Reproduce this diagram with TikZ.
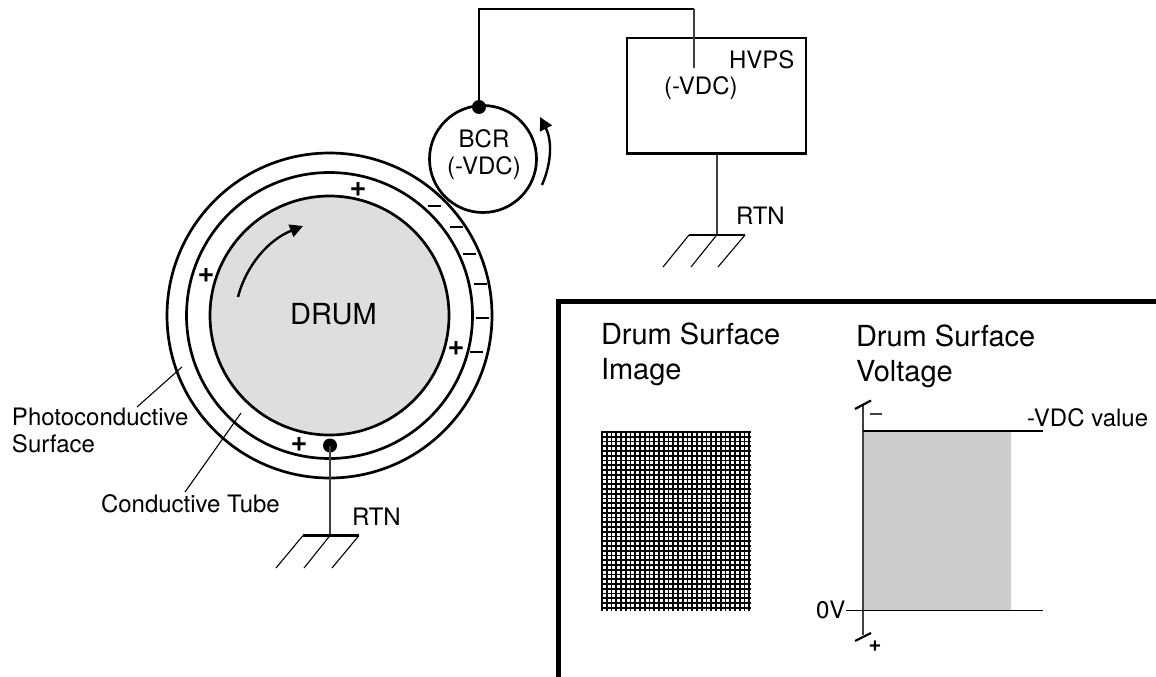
\documentclass[tikz,border=0pt]{standalone}
\usepackage{fontspec}
\setmainfont{TeX Gyre Heros}
\usetikzlibrary{arrows.meta}
\newcommand{\fs}[1]{\fontsize{#1}{#1}\selectfont}
\tikzset{
  thickline/.style={draw=black,line width=2.7pt},
  medline/.style={draw=black,line width=2.2pt},
  thinline/.style={draw=black!75,line width=1.4pt},
  hairline/.style={draw=black,line width=1.1pt},
  lbl/.style={inner sep=0pt,outer sep=0pt,anchor=base west,font=\fs{24}},
  biglbl/.style={inner sep=0pt,outer sep=0pt,anchor=base west,font=\fs{29}},
  ctr/.style={inner sep=0pt,outer sep=0pt,align=center,font=\fs{24}},
  sign/.style={inner sep=0pt,outer sep=0pt,font=\fs{29}\bfseries},
  minusmark/.style={draw=black,line width=2.6pt},
  junction/.style={circle,fill=black,inner sep=0pt,minimum size=14pt},
  rotarrow/.style={draw=black,line width=2.4pt,-{Triangle[length=13pt,width=13pt]}},
}
\begin{document}
\begin{tikzpicture}[x=1pt,y=-1pt]
\useasboundingbox (0,0) rectangle (1156,677);
% drum
\node[circle,thickline,minimum size=325pt,inner sep=0pt] (outer) at (329.5,315.5) {};
\node[circle,thickline,minimum size=286pt,inner sep=0pt] (middle) at (329.5,315.5) {};
\node[circle,thickline,fill=black!13,minimum size=239pt,inner sep=0pt] (drum) at (329.5,315.5) {};
\node[inner sep=0pt,font=\fs{29}] (drumlbl) at (333.5,314) {DRUM};
% drum arrow
\coordinate (da1) at (238,297);
\coordinate (da2) at (303,226);
\draw[rotarrow] (da1) .. controls (246,266) and (268,240) .. (da2);
% plus signs
\node[sign] (p1) at (358,190) {+};
\node[sign] (p2) at (206,276) {+};
\node[sign] (p3) at (456,349) {+};
\node[sign] (p4) at (299,445) {+};
% minus signs
\foreach \n/\x/\y in {a/434/206,b/456/227,c/469/254,d/480/284,e/482/318,f/476/352}{
  \coordinate (m\n l) at (\x-6.5,\y);
  \coordinate (m\n r) at (\x+6.5,\y);
  \draw[minusmark] (m\n l) -- (m\n r);
}
% BCR
\node[circle,thickline,fill=white,minimum size=107pt,inner sep=0pt] (bcr) at (483,159) {};
\node[ctr] (bcrlbl) at (484,155) {BCR\\[3pt](-VDC)};
\node[junction] (bcrdot) at (479,107) {};
\coordinate (bcrarrA) at (542,185);
\coordinate (bcrarrB) at (540,117);
\draw[rotarrow] (bcrarrA) .. controls (552,162) and (552,140) .. (bcrarrB);
% HVPS
\node[draw=black,line width=2.3pt,minimum width=179pt,minimum height=115.5pt,inner sep=0pt] (hvps) at (716.5,95.8) {};
\node[lbl] (hvpslbl) at (729,69) {HVPS};
\node[lbl] (vdclbl) at (664,94) {(-VDC)};
\coordinate (wireA) at (479,9);
\coordinate (wireB) at (694,9);
\coordinate (wireC) at (694,68);
\draw[medline,line join=miter] (bcrdot.center) -- (wireA) -- (wireB);
\draw[thinline] (wireB) -- (wireC);
% HVPS ground
\coordinate (g1c) at (716.7,235);
\coordinate (g1l) at (689,235);
\coordinate (g1r) at (745,235);
\coordinate (g1la) at (663,267);
\coordinate (g1ca) at (691,267);
\coordinate (g1ra) at (718,267);
\draw[thinline,line width=1.7pt] (hvps.south -| g1c) -- (g1c);
\draw[medline] (g1l) -- (g1r);
\draw[hairline] (g1l) -- (g1la) (g1c) -- (g1ca) (g1r) -- (g1ra);
\node[lbl] (rtn1) at (736,224) {RTN};
% drum ground
\node[junction] (drumdot) at (330,445.5) {};
\coordinate (g2c) at (330,535.5);
\coordinate (g2l) at (303,535.5);
\coordinate (g2r) at (359,535.5);
\coordinate (g2la) at (276,568);
\coordinate (g2ca) at (304,568);
\coordinate (g2ra) at (332,568);
\draw[thinline,line width=1.7pt] (drumdot.center) -- (g2c);
\draw[medline] (g2l) -- (g2r);
\draw[hairline] (g2l) -- (g2la) (g2c) -- (g2ca) (g2r) -- (g2ra);
\node[lbl] (rtn2) at (352,525) {RTN};
% leaders
\node[lbl] (pc1) at (12,425) {Photoconductive};
\node[lbl] (pc2) at (12,452) {Surface};
\node[lbl] (ct) at (101,512) {Conductive Tube};
\coordinate (pcA) at (137,407);
\coordinate (pcB) at (182,367);
\coordinate (ctA) at (185,492);
\coordinate (ctB) at (241,413);
\draw[hairline] (pcA) -- (pcB);
\draw[hairline] (ctA) -- (ctB);
% panel
\coordinate (pa) at (558.5,677);
\coordinate (pb) at (558.5,301);
\coordinate (pc) at (1156,301);
\draw[draw=black,line width=5pt,line join=miter] (pa) -- (pb) -- (pc);
\node[biglbl] (dsi1) at (601,344) {Drum Surface};
\node[biglbl] (dsi2) at (601,379) {Image};
\node[biglbl] (dsv1) at (856,346) {Drum Surface};
\node[biglbl] (dsv2) at (856,381) {Voltage};
% pattern
\begin{scope}[line width=1.9pt]
\foreach \i in {0,...,31}{
  \draw[black] ({602+\i*4.75},431) -- ({602+\i*4.75},611);
}
\foreach \j in {0,...,37}{
  \draw[black] (601,{432+\j*4.75}) -- (751,{432+\j*4.75});
}
\end{scope}
% graph
\fill[black!20] (863,431) rectangle (1011,610);
\coordinate (axT) at (863,404);
\coordinate (axB) at (863,635);
\draw[thinline,line width=1.6pt] (axT) -- (axB);
\coordinate (t1a) at (855,409);
\coordinate (t1b) at (871,400.5);
\coordinate (t2a) at (855,641);
\coordinate (t2b) at (871,633);
\draw[medline] (t1a) -- (t1b) (t2a) -- (t2b);
\coordinate (v1a) at (863,431);
\coordinate (v1b) at (1043,431);
\coordinate (v2a) at (846,610.5);
\coordinate (v2b) at (1043,610.5);
\draw[draw=black,line width=1.4pt] (v1a) -- (v1b) (v2a) -- (v2b);
\node[lbl] (vdcv) at (1027,426) {-VDC value};
\node[lbl] (zv) at (816,618) {0V};
\coordinate (gmA) at (870,414);
\coordinate (gmB) at (882,414);
\draw[draw=black!75,line width=1.6pt] (gmA) -- (gmB);
\node[inner sep=0pt,font=\fs{22}\bfseries] (gp) at (875,646) {+};
\end{tikzpicture}
\end{document}
